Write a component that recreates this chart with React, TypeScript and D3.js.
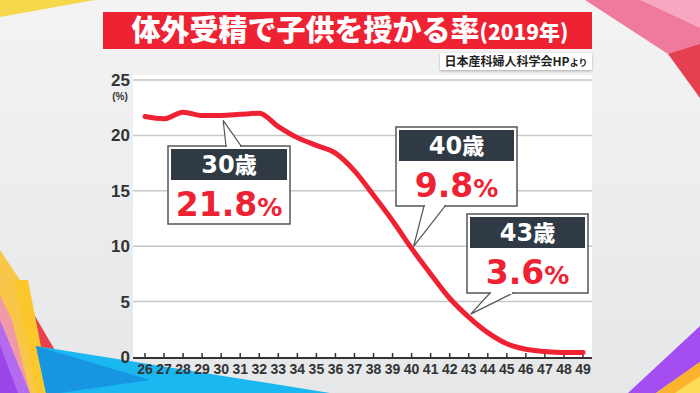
import React from 'react';
import * as d3 from 'd3';

// ages on the x axis
const ages = [26, 27, 28, 29, 30, 31, 32, 33, 34, 35, 36, 37, 38, 39, 40, 41, 42, 43, 44, 45, 46, 47, 48, 49];
// birth rate per IVF cycle (%)
const rates = [21.7, 21.5, 22.1, 21.8, 21.8, 21.9, 22.0, 20.8, 19.8, 19.1, 18.4, 16.8, 14.6, 12.3, 9.8, 7.5, 5.3, 3.6, 2.2, 1.2, 0.7, 0.5, 0.4, 0.4];
const yTicks = [0, 5, 10, 15, 20, 25];

const calloutAges = [30, 40, 43];
const calloutLabels = ['30', '40', '43'];
const calloutValues = ['21.8', '9.8', '3.6'];
// box placement: left, top, pointer base start, pointer base end
const calloutBoxes = [
  { x: 168, y: 146, w: 122, h: 78, b0: 226, b1: 241, tipDy: 5 },
  { x: 396, y: 127, w: 121, h: 79, b0: 424, b1: 445, tipDy: -2 },
  { x: 467, y: 214, w: 121, h: 79, b0: 490, b1: 513, tipDy: -3 },
];

const W = 700;
const H = 393;
const CJK = '"Noto Sans CJK JP", sans-serif';
const DIGITS = '"DejaVu Sans", "Noto Sans CJK JP", sans-serif';
const NARROW = '"Liberation Sans Narrow", "Liberation Sans", sans-serif';

export default function App() {
  const x = d3.scaleLinear().domain([26, 49]).range([145, 583]);
  const y = d3.scaleLinear().domain([0, 25]).range([357, 80]);

  const line = d3
    .line<number>()
    .x((_, i) => x(ages[i]))
    .y(d => y(d))
    .curve(d3.curveMonotoneX);

  return (
    <svg
      width={W}
      height={H}
      style={{ position: 'absolute', left: 0, top: 0, display: 'block' }}
    >
      <defs>
        <linearGradient id="bg" x1="0" y1="0" x2="0" y2="1">
          <stop offset="0" stopColor="#f3f3f3" />
          <stop offset="1" stopColor="#e5e7e9" />
        </linearGradient>
        <filter id="sh" x="-5%" y="-20%" width="110%" height="150%">
          <feDropShadow dx="0" dy="1" stdDeviation="1" floodColor="#000" floodOpacity="0.3" />
        </filter>
      </defs>
      <rect width={W} height={H} fill="url(#bg)" />

      {/* corner decorations */}
      <polygon points="0,0 95,0 50,8 0,17" fill="#f6d94a" />
      <polygon points="585,0 700,0 700,50 668,54" fill="#f07a9c" />
      <polygon points="640,0 700,0 700,28" fill="#f9a6c2" />
      <polygon points="668,54 700,44 700,98" fill="#e5404f" />
      <polygon points="0,250 0,393 45,393 20,280" fill="#f8c74a" />
      <polygon points="0,295 0,393 30,393 12,320" fill="#f29aa8" />
      <polygon points="0,320 0,393 30,393" fill="#b36cf0" />
      <polygon points="0,345 0,393 18,393" fill="#9a46e8" />
      <polygon points="14,280 56,352 38,350" fill="#e8404c" />
      <polygon points="14,280 38,350 30,330" fill="#f27a8e" />
      <polygon points="14,280 28,280 50,393 36,393" fill="#fcc72c" />
      <polygon points="36,346 330,393 46,393" fill="#1ab7f0" />
      <polygon points="36,346 150,380 60,393 46,393" fill="#1895e0" />
      <polygon points="628,393 700,326 700,362 656,393" fill="#a44df0" />
      <polygon points="656,393 700,362 700,393" fill="#fbb22c" />
      <polygon points="675,393 700,376 700,393" fill="#fddc5a" />

      {/* title */}
      <rect x={103} y={12} width={489} height={37} fill="#ee2232" />
      <text
        x={350}
        y={41}
        textAnchor="middle"
        fill="#fff"
        fontFamily={CJK}
        fontWeight={900}
        fontSize={29}
      >
        体外受精で子供を授かる率
        <tspan fontSize={21} dy={-1}>(2019年)</tspan>
      </text>

      {/* source */}
      <rect x={440} y={53} width={152} height={17} fill="#fff" filter="url(#sh)" />
      <text x={516} y={66} textAnchor="middle" fill="#222" fontFamily={CJK} fontWeight={700} fontSize={12}>
        日本産科婦人科学会HP<tspan fontSize={9}>より</tspan>
      </text>

      {/* plot area */}
      <rect x={133} y={75} width={459} height={283} fill="#fff" />
      {yTicks.slice(1).map(t => (
        <line key={t} x1={133} x2={592} y1={y(t)} y2={y(t)} stroke="#c4c6c8" strokeWidth={1.5} />
      ))}
      {yTicks.map(t => (
        <text
          key={t}
          x={130}
          y={y(t) + 6}
          textAnchor="end"
          fill="#333"
          fontFamily='"Liberation Sans", sans-serif'
          fontWeight={700}
          fontSize={17}
        >
          {t}
        </text>
      ))}
      <text x={120} y={100} textAnchor="middle" fill="#333" fontFamily='"Liberation Sans", sans-serif' fontWeight={700} fontSize={10}>
        (%)
      </text>

      {/* x axis */}
      <line x1={133} x2={592} y1={358} y2={358} stroke="#333" strokeWidth={2} />
      {ages.map(a => (
        <g key={a}>
          <line x1={x(a)} x2={x(a)} y1={358} y2={353} stroke="#333" strokeWidth={1.5} />
          <text
            x={x(a)}
            y={374}
            textAnchor="middle"
            fill="#333"
            fontFamily={NARROW}
            fontWeight={700}
            fontSize={14}
          >
            {a}
          </text>
        </g>
      ))}

      {/* line */}
      <path d={line(rates) ?? ''} fill="none" stroke="#ee2233" strokeWidth={5} strokeLinejoin="round" strokeLinecap="round" />

      {/* callouts */}
      {calloutAges.map((a, i) => {
        const b = calloutBoxes[i];
        const v = rates[ages.indexOf(a)];
        const tx = x(a) + 2;
        const ty = y(v) + b.tipDy;
        const cx = b.x + b.w / 2;
        return (
          <g key={a}>
            <polygon
              points={`${b.x},${b.y} ${b.x + b.w},${b.y} ${b.x + b.w},${b.y + b.h} ${b.x},${b.y + b.h}`}
              fill="#fff"
              stroke="#555"
              strokeWidth={1.5}
            />
            {ty < b.y ? (
              <>
                <polygon points={`${b.b0},${b.y} ${tx},${ty} ${b.b1},${b.y}`} fill="#fff" stroke="#555" strokeWidth={1.2} />
                <line x1={b.b0 + 1} x2={b.b1 - 1} y1={b.y} y2={b.y} stroke="#fff" strokeWidth={2} />
              </>
            ) : (
              <>
                <polygon points={`${b.b0},${b.y + b.h} ${tx},${ty} ${b.b1},${b.y + b.h}`} fill="#fff" stroke="#555" strokeWidth={1.2} />
                <line x1={b.b0 + 1} x2={b.b1 - 1} y1={b.y + b.h} y2={b.y + b.h} stroke="#fff" strokeWidth={2} />
              </>
            )}
            <rect x={b.x + 3} y={b.y + 3} width={b.w - 6} height={31} fill="#2f3a44" />
            <text x={cx} y={b.y + 27} textAnchor="middle" fill="#fff" fontFamily={DIGITS} fontWeight={700} fontSize={24}>
              {calloutLabels[i]}
              <tspan fontFamily={CJK} fontWeight={900} fontSize={22}>歳</tspan>
            </text>
            <text x={cx} y={b.y + 70} textAnchor="middle" fill="#ee2233" fontFamily={DIGITS} fontWeight={700} fontSize={33}>
              {calloutValues[i]}
              <tspan fontSize={25}>%</tspan>
            </text>
          </g>
        );
      })}
    </svg>
  );
}
